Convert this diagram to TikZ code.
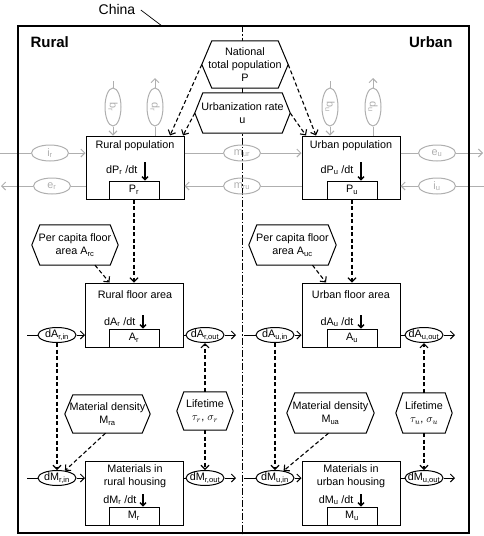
\documentclass[tikz,border=0pt]{standalone}
\usepackage{fontspec}
\usepackage{graphicx}
\setmainfont{Liberation Sans}
\usetikzlibrary{arrows.meta,shapes.geometric,backgrounds}
\definecolor{lg}{RGB}{175,175,175}
\begin{document}
\begin{tikzpicture}[x=1pt,y=-1pt,
  every node/.style={font=\fontsize{10.8}{13}\selectfont},
  box/.style={draw,line width=1pt,minimum width=98pt,minimum height=64pt,inner sep=0},
  inbox/.style={draw,line width=1pt,minimum width=50pt,minimum height=18pt,inner sep=0},
  hexn/.style={align=center,inner sep=0},
  flow/.style={draw,ellipse,line width=1pt,minimum width=38pt,minimum height=15pt,inner xsep=-3pt,inner ysep=-1pt},
  gflow/.style={draw=lg,text=lg,ellipse,line width=1pt,minimum width=37pt,minimum height=16pt,inner sep=0},
  vflow/.style={draw=lg,text=lg,ellipse,line width=1pt,minimum width=16pt,minimum height=38pt,inner sep=0},
  gline/.style={draw=lg,line width=1pt},
  garr/.style={gline,-{Straight Barb[length=4pt,width=8pt]}},
  fline/.style={line width=1pt},
  arr/.style={line width=1pt,-{Straight Barb[length=4pt,width=8pt]}},
  darr/.style={line width=1.1pt,dash pattern=on 4pt off 2.5pt,-{Straight Barb[length=4pt,width=8pt]}},
  rate/.style={line width=1.4pt,-{Straight Barb[length=3pt,width=6pt]}},
  hexline/.style={line width=1pt,fill=white},
  centre/.style={line width=0.8pt,dash pattern=on 7pt off 2pt on 1.5pt off 2pt},
]
\useasboundingbox (0,0) rectangle (484,536);

% title and region labels
\node[font=\fontsize{14}{16}\selectfont] (china) at (117,9) {China};
\coordinate (chinaend) at (162,26);
\draw[line width=0.7pt] ([xshift=2pt,yshift=-1pt]china.east) -- (chinaend);
\node[font=\bfseries\fontsize{15}{17}\selectfont,anchor=west] (rural) at (27,42) {Rural};
\node[font=\bfseries\fontsize{15}{17}\selectfont,anchor=east] (urban) at (456,42) {Urban};

% hexagons (text)
\node[hexn,minimum width=86pt,minimum height=47pt] (nat) at (245,64.5) {National\\total population\\P};
\node[hexn,minimum width=95pt,minimum height=40pt] (urb) at (242.5,113) {Urbanization rate\\u};
\node[hexn,minimum width=86pt,minimum height=40pt] (arc) at (75,245) {Per capita floor\\area A\textsubscript{rc}};
\node[hexn,minimum width=87pt,minimum height=40pt] (auc) at (292.5,245) {Per capita floor\\area A\textsubscript{uc}};
\node[hexn,minimum width=85pt,minimum height=38pt] (mra) at (107.5,414) {Material density\\M\textsubscript{ra}};
\node[hexn,minimum width=87pt,minimum height=40pt] (mua) at (330.5,413) {Material density\\M\textsubscript{ua}};
\node[hexn,minimum width=56pt,minimum height=38pt] (ltr) at (205,411) {Lifetime\\$\tau_r$, $\sigma_r$};
\node[hexn,minimum width=56pt,minimum height=40pt] (ltu) at (424,413) {Lifetime\\$\tau_u$, $\sigma_u$};

% population boxes
\node[box,minimum height=63pt] (rpop) at (135,167.5) {};
\node[inbox] (rP) at (134,190) {P\textsubscript{r}};
\node (rpopt) at (135,146) {Rural population};
\node[anchor=east] (rdP) at (141,170) {dP\textsubscript{r} /dt};
\coordinate (rdPa) at (145,162);
\draw[rate] (rdPa) -- (rdPa |- rP.north);

\node[box,minimum height=63pt] (upop) at (351,167.5) {};
\node[inbox] (uP) at (352,190) {P\textsubscript{u}};
\node (upopt) at (351,146) {Urban population};
\node[anchor=east] (udP) at (357,170) {dP\textsubscript{u} /dt};
\coordinate (udPa) at (361,162);
\draw[rate] (udPa) -- (udPa |- uP.north);

% floor area boxes
\node[box] (rfloor) at (134.5,315) {};
\node[inbox] (rA) at (134,338) {A\textsubscript{r}};
\node (rfloort) at (135,295) {Rural floor area};
\node[anchor=east] (rdA) at (139,322) {dA\textsubscript{r} /dt};
\coordinate (rdAa) at (143,315);
\draw[rate] (rdAa) -- (rdAa |- rA.north);

\node[box] (ufloor) at (351,315) {};
\node[inbox] (uA) at (352,338) {A\textsubscript{u}};
\node (ufloort) at (351,295) {Urban floor area};
\node[anchor=east] (udA) at (357,322) {dA\textsubscript{u} /dt};
\coordinate (udAa) at (361,315);
\draw[rate] (udAa) -- (udAa |- uA.north);

% material boxes
\node[box] (rmat) at (134.5,493) {};
\node[inbox] (rM) at (134,516) {M\textsubscript{r}};
\node[align=center] (rmatt) at (135,476) {Materials in\\rural housing};
\node[anchor=east] (rdM) at (140,500) {dM\textsubscript{r} /dt};
\coordinate (rdMa) at (143,494);
\draw[rate] (rdMa) -- (rdMa |- rM.north);

\node[box] (umat) at (351,493) {};
\node[inbox] (uM) at (352,516) {M\textsubscript{u}};
\node[align=center] (umatt) at (351,476) {Materials in\\urban housing};
\node[anchor=east] (udM) at (357,500) {dM\textsubscript{u} /dt};
\coordinate (udMa) at (361,494);
\draw[rate] (udMa) -- (udMa |- uM.north);

% gray population flows
\node[vflow] (br) at (113,107) {\rotatebox{-90}{b\textsubscript{r}}};
\node[vflow] (dr) at (155,107) {\rotatebox{-90}{d\textsubscript{r}}};
\node[vflow] (bu) at (330,107) {\rotatebox{-90}{b\textsubscript{u}}};
\node[vflow] (du) at (373,107) {\rotatebox{-90}{d\textsubscript{u}}};
\coordinate (brs) at (113,81);
\coordinate (dre) at (155,78);
\coordinate (bus) at (330,81);
\coordinate (due) at (373,78);
\draw[gline] (brs) -- (br.north);
\draw[garr] (br.south) -- (br.south |- rpop.north);
\draw[gline] (dr.south |- rpop.north) -- (dr.south);
\draw[garr] (dr.north) -- (dre);
\draw[gline] (bus) -- (bu.north);
\draw[garr] (bu.south) -- (bu.south |- upop.north);
\draw[gline] (du.south |- upop.north) -- (du.south);
\draw[garr] (du.north) -- (due);

\node[gflow] (ir) at (50,153) {i\textsubscript{r}};
\node[gflow] (er) at (52,186) {e\textsubscript{r}};
\node[gflow] (mur) at (242,153) {m\textsubscript{ur}};
\node[gflow] (mru) at (242,186) {m\textsubscript{ru}};
\node[gflow] (eu) at (437,153) {e\textsubscript{u}};
\node[gflow] (iu) at (437,186) {i\textsubscript{u}};
\coordinate (irs) at (0,153);
\coordinate (ere) at (1,186);
\coordinate (eue) at (483,153);
\coordinate (ius) at (484,186);
\draw[gline] (irs) -- (ir);
\draw[garr] (ir) -- (ir -| rpop.west);
\draw[gline] (er -| rpop.west) -- (er);
\draw[garr] (er) -- (ere);
\draw[gline] (mur -| rpop.east) -- (mur);
\draw[garr] (mur) -- (mur -| upop.west);
\draw[gline] (mru -| upop.west) -- (mru);
\draw[garr] (mru) -- (mru -| rpop.east);
\draw[gline] (eu -| upop.east) -- (eu);
\draw[garr] (eu) -- (eue);
\draw[gline] (ius) -- (iu);
\draw[garr] (iu) -- (iu -| upop.east);

% dashed information arrows (top)
\draw[darr] (nat.west) -- ([xshift=35pt]rpop.north);
\draw[darr] (urb.west) -- ([xshift=48pt]rpop.north);
\draw[darr] (nat.east) -- ([xshift=-35pt]upop.north);
\draw[darr] (urb.east) -- ([xshift=-45pt]upop.north);
\draw[darr] (rP.south) -- (rP.south |- rfloor.north);
\draw[darr] (uP.south) -- (uP.south |- ufloor.north);
\draw[darr] ([xshift=20pt]arc.south) -- ([xshift=-25pt]rfloor.north);
\draw[darr] ([xshift=20pt]auc.south) -- ([xshift=-25pt]ufloor.north);

% floor area flows
\node[flow] (dAri) at (57,335) {dA\textsubscript{r,in}};
\node[flow] (dAro) at (205,335) {dA\textsubscript{r,out}};
\node[flow] (dAui) at (275,335) {dA\textsubscript{u,in}};
\node[flow] (dAuo) at (424,335) {dA\textsubscript{u,out}};
\coordinate (dArs) at (27,335);
\coordinate (dAre) at (236,335);
\coordinate (dAus) at (244,335);
\coordinate (dAue) at (455,335);
\draw[fline] (dArs) -- (dAri);
\draw[arr] (dAri) -- (dAri -| rfloor.west);
\draw[fline] (dAro -| rfloor.east) -- (dAro);
\draw[arr] (dAro) -- (dAre);
\draw[fline] (dAus) -- (dAui);
\draw[arr] (dAui) -- (dAui -| ufloor.west);
\draw[fline] (dAuo -| ufloor.east) -- (dAuo);
\draw[arr] (dAuo) -- (dAue);

% material flows
\node[flow] (dMri) at (57,478) {dM\textsubscript{r,in}};
\node[flow] (dMro) at (205,478) {dM\textsubscript{r,out}};
\node[flow] (dMui) at (275,478) {dM\textsubscript{u,in}};
\node[flow] (dMuo) at (424,478) {dM\textsubscript{u,out}};
\coordinate (dMrs) at (27,478);
\coordinate (dMre) at (236,478);
\coordinate (dMus) at (244,478);
\coordinate (dMue) at (455,478);
\draw[fline] (dMrs) -- (dMri);
\draw[arr] (dMri) -- (dMri -| rmat.west);
\draw[fline] (dMro -| rmat.east) -- (dMro);
\draw[arr] (dMro) -- (dMre);
\draw[fline] (dMus) -- (dMui);
\draw[arr] (dMui) -- (dMui -| umat.west);
\draw[fline] (dMuo -| umat.east) -- (dMuo);
\draw[arr] (dMuo) -- (dMue);

% dashed arrows (lower)
\draw[darr] (dAri) -- (dMri);
\draw[darr] (dAui) -- (dMui);
\draw[darr] ([xshift=-2pt]mra.south) -- (dMri);
\draw[darr] ([xshift=-2pt]mua.south) -- (dMui);
\draw[darr] (ltr.north) -- (dAro.south);
\draw[darr] (ltr.south) -- (dMro.north);
\draw[darr] (ltu.north) -- (dAuo.south);
\draw[darr] (ltu.south) -- (dMuo.north);

% frame
\node[draw,line width=2pt,minimum width=451pt,minimum height=507pt,inner sep=0] (frame) at (243.5,279.5) {};

% background: centre line and hexagon outlines
\begin{scope}[on background layer]
\draw[centre] (frame.north -| mur) -- (frame.south -| mur);
\foreach \n/\d in {nat/10,urb/8,arc/8,auc/8,mra/8,mua/8,ltr/7,ltu/7}{
  \filldraw[hexline] (\n.west) -- ([xshift=\d pt]\n.north west) -- ([xshift=-\d pt]\n.north east)
    -- (\n.east) -- ([xshift=-\d pt]\n.south east) -- ([xshift=\d pt]\n.south west) -- cycle;
}
\end{scope}
\end{tikzpicture}
\end{document}
